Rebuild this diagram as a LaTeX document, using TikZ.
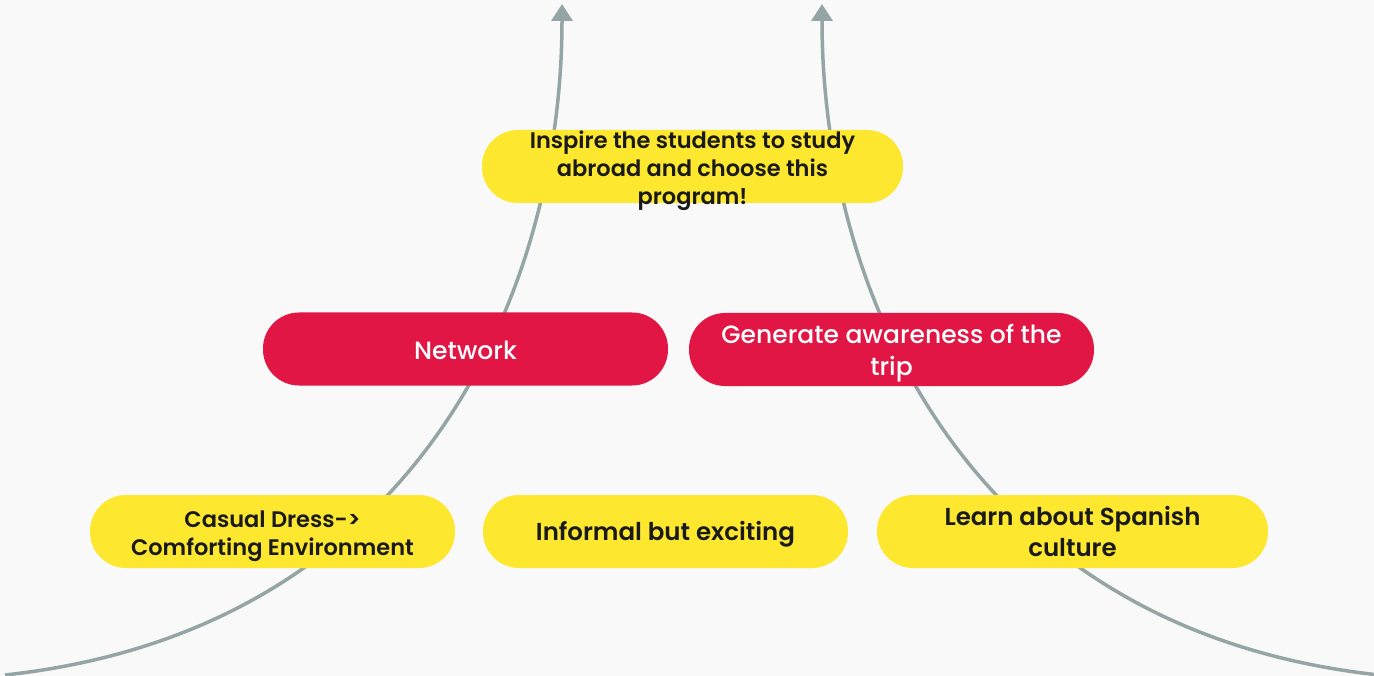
\documentclass[tikz,border=0pt]{standalone}
\usepackage{fontspec}
\setmainfont{Poppins}[BoldFont={* SemiBold}]
\newfontfamily\popmed{Poppins}[UprightFont={* Medium}]
\usetikzlibrary{arrows.meta}
\definecolor{bg}{HTML}{F9F9F9}
\definecolor{pillyellow}{HTML}{FDE82F}
\definecolor{pillred}{HTML}{E11645}
\definecolor{linegray}{HTML}{95A5A6}
\definecolor{ink}{HTML}{1A1A1A}
\newcommand{\shiftdown}[2]{\raisebox{-#1}[\height][\depth]{#2}}
\begin{document}
\begin{tikzpicture}[x=1pt,y=-1pt,
  pill/.style={rounded corners=36pt, minimum height=73pt, inner sep=0pt, align=center},
  ypill/.style={pill, fill=pillyellow, text=ink},
  rpill/.style={pill, fill=pillred, text=white, font=\popmed\fontsize{25}{32}\selectfont},
  small/.style={font=\bfseries\fontsize{22.5}{28}\selectfont},
  big/.style={font=\bfseries\fontsize{24.5}{31}\selectfont},
  flow/.style={draw=linegray, line width=3.5pt, -{Triangle[width=21pt,length=17pt]}}]
\fill[bg] (0,0) rectangle (1374,676);
\useasboundingbox (0,0) rectangle (1374,676);
% curves
\coordinate (lstart) at (5,675);
\coordinate (ltip) at (562,4);
\coordinate (rstart) at (1379,675);
\coordinate (rtip) at (822,4);
\draw[flow] (lstart) .. controls (420,630) and (562,290) .. (ltip);
\draw[flow] (rstart) .. controls (964,630) and (822,290) .. (rtip);
% nodes
\node[ypill, minimum width=421pt] (inspire) at (692.5,166.5) {};
\node[small, text=ink, align=center, inner sep=0pt] (inspiretxt) at (692.5,171) {Inspire the students to study\\abroad and choose this\\program!};
\node[rpill, minimum width=405pt] (network) at (465.5,349) {\shiftdown{1pt}{Network}};
\node[rpill, minimum width=405pt] (generate) at (891.5,349.5) {\shiftdown{4pt}{\parbox{400pt}{\centering Generate awareness of the\\trip}}};
\node[ypill, small, minimum width=365pt] (casual) at (272.5,531.5) {\shiftdown{5pt}{\parbox{360pt}{\centering Casual Dress->\\Comforting Environment}}};
\node[ypill, big, minimum width=365pt] (informal) at (665.5,531.5) {\shiftdown{3pt}{Informal but exciting}};
\node[ypill, big, minimum width=391pt] (learn) at (1072.5,531.5) {Learn about Spanish\\culture};
\end{tikzpicture}
\end{document}
